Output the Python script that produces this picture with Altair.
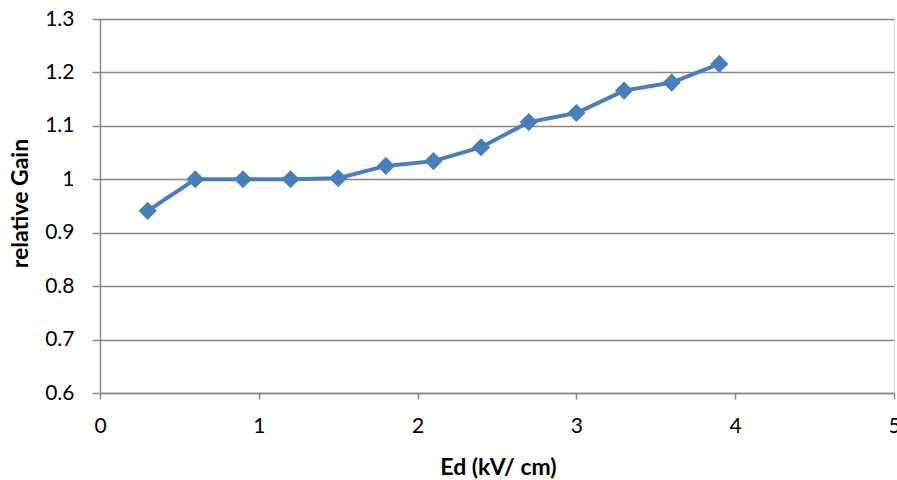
import altair as alt
import pandas as pd

ed = [0.3, 0.6, 0.9, 1.2, 1.5, 1.8, 2.1, 2.4, 2.7, 3.0, 3.3, 3.6, 3.9]
gain = [0.941, 1.0, 1.0, 1.0, 1.002, 1.025, 1.034, 1.060, 1.107, 1.124, 1.166, 1.181, 1.216]

df = pd.DataFrame({"ed": ed, "gain": gain})

FONT = "Lato"
GRID = "#888888"
BLUE = "#4A7EBB"

x = alt.X("ed:Q", scale=alt.Scale(domain=[0, 5], nice=False),
          axis=alt.Axis(title="Ed (kV/ cm)", values=[0, 1, 2, 3, 4, 5], format="d",
                        grid=False, domainColor=GRID, domainWidth=1.5,
                        tickColor=GRID, tickWidth=1.5, tickSize=6,
                        labelFont=FONT, labelFontSize=21, labelColor="#000000",
                        labelPadding=16, labelFlush=False, labelOverlap=False,
                        titleFont=FONT, titleFontSize=23, titleFontWeight="bold",
                        titleColor="#000000", titleX=398, titleY=74,
                        titleBaseline="middle", titleAlign="center"))
y = alt.Y("gain:Q", scale=alt.Scale(domain=[0.6, 1.3], nice=False, zero=False),
          axis=alt.Axis(title="relative Gain", values=[0.6, 0.7, 0.8, 0.9, 1.0, 1.1, 1.2, 1.3],
                        labelExpr="datum.value == 1 ? '1' : format(datum.value, '.1f')",
                        grid=True, gridColor=GRID, gridWidth=1.5,
                        domainColor=GRID, domainWidth=1.5,
                        tickColor=GRID, tickWidth=1.5, tickSize=8,
                        labelFont=FONT, labelFontSize=21, labelColor="#000000",
                        labelPadding=18, labelFlush=False, labelOverlap=False,
                        titleFont=FONT, titleFontSize=23, titleFontWeight="bold",
                        titleColor="#000000", titleX=-80, titleY=184, titleAngle=270,
                        titleBaseline="middle", titleAlign="center"))

line = alt.Chart(df).mark_line(color=BLUE, strokeWidth=4).encode(x=x, y=y)
pts = alt.Chart(df).mark_point(shape="diamond", filled=True, size=330, color=BLUE, opacity=1).encode(x=x, y=y)

chart = (line + pts).properties(
    width=794, height=374,
    autosize="none",
    padding={"left": 100, "top": 19, "right": 3, "bottom": 87},
).configure_view(stroke=None).configure(background="white")

chart.save("out.html", embed_options={"renderer": "svg", "actions": False})
